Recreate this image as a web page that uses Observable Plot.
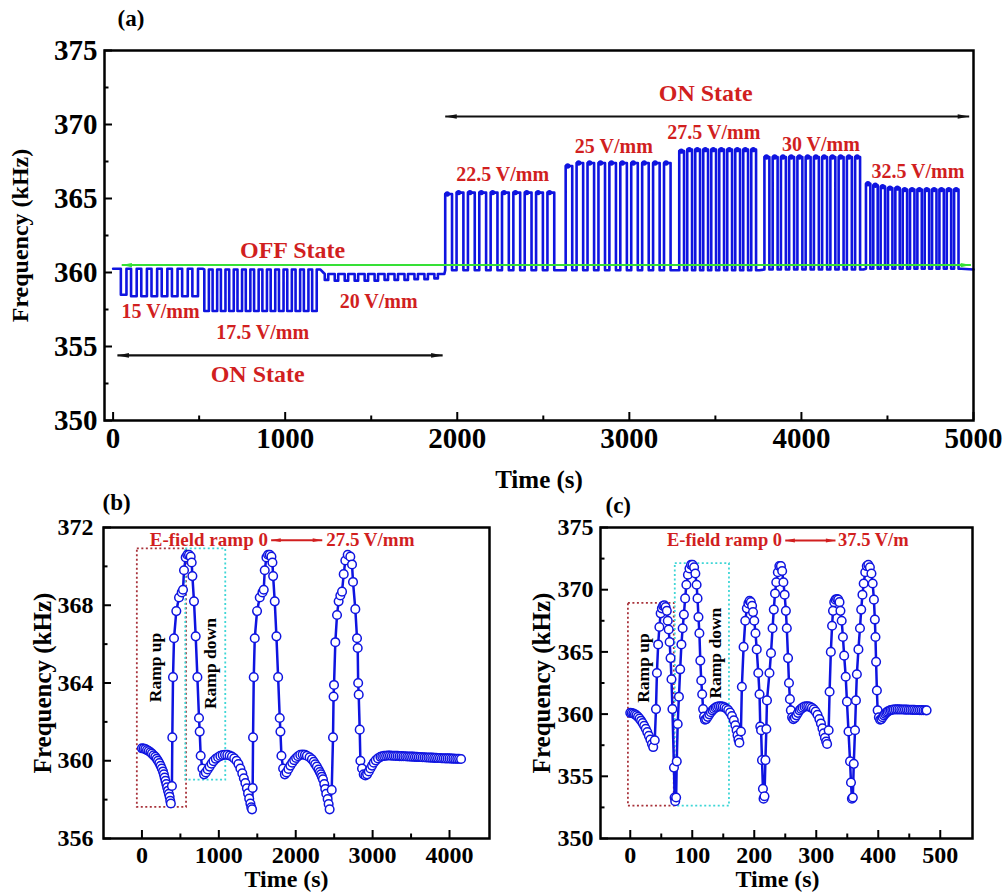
<!DOCTYPE html>
<html><head><meta charset="utf-8">
<script src="https://cdn.jsdelivr.net/npm/d3@7"></script>
<script src="https://cdn.jsdelivr.net/npm/@observablehq/plot@0.6"></script>
<style>
html,body{margin:0;padding:0;background:#fff;}
#wrap{position:relative;width:1003px;height:893px;overflow:hidden;background:#fff;}
#wrap svg{position:absolute;overflow:visible;}
</style></head><body><div id="wrap"></div>
<script>
// ---------------- Panel (a) data ----------------
const segLabels = ["15 V/mm","17.5 V/mm","20 V/mm","22.5 V/mm","25 V/mm","27.5 V/mm","30 V/mm","32.5 V/mm"];
const segStart = [45, 530, 1230, 1930, 2630, 3290, 3785, 4375];
const segEnd   = [520, 1205, 1925, 2590, 3265, 3755, 4360, 4930];
const segBase  = [360.25, 360.2, 359.9, 360.15, 360.15, 360.15, 360.2, 360.25];
const pulses15  = [358.5, 358.4, 358.4, 358.4, 358.4, 358.4, 358.4, 358.4];
const pulses175 = [357.4, 357.4, 357.4, 357.4, 357.4, 357.4, 357.4, 357.4, 357.4, 357.4, 357.4, 357.4, 357.4, 357.4];
const pulses20  = [359.5, 359.45, 359.45, 359.45, 359.45, 359.45, 359.5, 359.5, 359.5, 359.55, 359.55, 359.6];
const pulses225 = [365.3, 365.4, 365.4, 365.4, 365.4, 365.4, 365.4, 365.4, 365.4, 365.4];
const pulses25  = [367.2, 367.4, 367.4, 367.4, 367.4, 367.4, 367.4, 367.4, 367.4, 367.4];
const pulses275 = [368.2, 368.3, 368.3, 368.3, 368.3, 368.3, 368.3, 368.3, 368.3, 368.3];
const pulses30  = [367.8, 367.8, 367.8, 367.8, 367.8, 367.8, 367.8, 367.8, 367.8, 367.8, 367.8, 367.8];
const pulses325 = [366.0, 365.9, 365.8, 365.7, 365.7, 365.6, 365.6, 365.6, 365.6, 365.6, 365.6, 365.6, 365.6];
const segPulses = [pulses15, pulses175, pulses20, pulses225, pulses25, pulses275, pulses30, pulses325];
const segDuty = [0.55, 0.55, 0.35, 0.6, 0.6, 0.6, 0.6, 0.6];
const leadFreqA = 360.25, tailFreqA = 360.2;
const xTicksA = [0, 1000, 2000, 3000, 4000, 5000];
const yTicksA = [350, 355, 360, 365, 370, 375];

// ---------------- Panel (b) data ----------------
const timeB = [0,22,44,66,88,110,130,152,174,192,209,226,243,258,274,285,295,306,317,328,339,350,360,368,376,
390,395,404,417,447,482,517,534,547,569,590,612,634,647,656,677,699,721,742,751,764,786,808,
830,855,880,905,930,960,990,1020,1050,1080,1110,1140,1170,1200,1230,1255,1280,1305,1325,1345,1365,1380,1395,1410,1422,1432,
1440,1445,1454,1467,1497,1532,1567,1584,1597,1619,1640,1662,1684,1697,1706,1727,1749,1771,1792,1801,1814,1836,1858,
1880,1905,1930,1955,1980,2005,2030,2059,2090,2120,2145,2180,2211,2235,2254,2275,2297,2313,2328,2341,2354,2371,2384,2397,2415,2428,2441,
2468,2485,2492,2498,2515,2537,2558,2580,2602,2624,2645,2676,2710,2732,2745,2775,2797,2806,2812,2819,2832,2841,2862,2884,
2906,2928,2950,2971,2993,3015,3040,3070,3102,3125,3150,3175,3200,3225,3250,3275,3300,3325,3350,3375,3400,3425,3450,3475,3500,
3525,3550,3575,3600,3625,3650,3675,3700,3725,3750,3775,3800,3825,3850,3875,3900,3925,3950,3975,4000,4025,4050,4075,4100,4125,4150];
const freqB = [360.64,360.63,360.6,360.55,360.5,360.44,360.37,360.28,360.2,360.1,360.0,359.88,359.74,359.6,359.45,359.3,359.14,358.97,358.8,358.63,358.46,358.3,358.15,357.94,357.8,
358.7,361.2,364.3,366.3,367.7,368.4,368.66,368.8,369.8,370.46,370.6,370.6,370.5,370.2,369.5,368.2,366.4,364.3,362.2,361.5,360.26,359.6,359.3,
359.4,359.55,359.7,359.85,359.98,360.1,360.18,360.25,360.29,360.31,360.3,360.27,360.22,360.12,360.0,359.83,359.6,359.35,359.1,358.85,358.58,358.32,358.05,357.8,357.6,357.5,
358.6,361.2,364.3,366.3,367.7,368.4,368.66,368.8,369.8,370.46,370.6,370.6,370.5,370.2,369.5,368.2,366.4,364.3,362.2,361.5,360.26,359.6,359.3,
359.4,359.58,359.75,359.9,360.03,360.14,360.23,360.3,360.32,360.3,360.26,360.18,360.07,359.95,359.82,359.7,359.55,359.42,359.3,359.18,359.05,358.8,358.55,358.3,358.03,357.77,357.5,
358.5,361.2,363.3,363.9,366.1,367.5,368.2,368.5,368.7,369.6,370.3,370.6,370.5,370.1,369.2,367.8,366.3,365.8,364.0,363.4,361.6,360.0,359.6,359.3,
359.25,359.3,359.45,359.6,359.75,359.9,360.02,360.12,360.2,360.23,360.25,360.26,360.27,360.27,360.26,360.26,360.25,360.25,360.24,360.24,360.23,360.23,360.22,360.22,360.21,
360.21,360.2,360.2,360.19,360.19,360.18,360.18,360.17,360.17,360.16,360.16,360.15,360.15,360.14,360.14,360.13,360.13,360.12,360.12,360.12,360.11,360.11,360.1,360.1,360.1,360.09];
const xTicksB = [0, 1000, 2000, 3000, 4000];
const yTicksB = [356, 360, 364, 368, 372];

// ---------------- Panel (c) data ----------------
const timeC = [0,2.5,5,7.5,10,12.5,15,17.5,20,22.5,25,27.5,30,32.5,35,37,
39.5,41.5,43,45,47,49,51,53,55,57,59,60.5,62,63.5,65,66.5,68,70.5,71.5,72.5,
74,75,76.5,78.5,80.5,82.5,84.5,86.5,88.5,90.5,93,95.5,98,100.5,103,105,107,108.5,110,111.5,113,114.5,116,117.5,119,120.5,
122.5,125,127.5,130,132.5,135,137.5,140,143,146,149,152,155,158,161,164,167,169.5,171.5,173,174.5,176,
178.5,180,182.8,185.5,188,190.5,192.5,194.5,196.5,198,200,202,204,206.5,208.5,209.7,211,212.5,214,215,
216.5,218,219.5,220.5,224.5,227,229.5,231.5,233.5,235.5,238,240.5,243,245,247,249,251,252.5,254.5,256,257.5,259,261,263,
265.5,268,270.5,273,275.5,278,281,284,287,290,293,296,299,302,305,307.5,310,312,314,316,317.5,
320,321.5,323.5,325.5,327,329,331,333.5,335.5,337.5,339,341,343,345,347.5,349.5,352,354.5,356,357.5,
359,360.5,362.5,364,365.5,368,370.5,372.5,374.5,376.5,379,381.5,384,386.5,389,391,393,394.5,395.5,396.5,397.8,399,401,403,
405,407,409,411,413,415,417.5,420,422.5,425,428,431,434,437,440,443,446,449,452,455,458,461,464,467,470,473,476,478];
const freqC = [360.1,360.09,360.05,359.98,359.9,359.78,359.64,359.47,359.28,359.06,358.82,358.55,358.25,357.95,357.6,357.35,
357.9,360.4,363.3,365.6,367.0,368.1,368.5,368.7,368.75,368.6,368.3,367.5,366.8,365.8,364.5,362.8,360.4,355.7,353.3,353.0,
353.3,356.2,359.2,361.4,363.6,365.6,366.9,368.0,369.3,370.4,371.2,371.7,372.0,372.0,371.8,371.3,370.4,369.3,367.8,366.5,364.3,362.7,361.6,360.4,359.8,359.55,
359.6,359.78,359.98,360.15,360.3,360.42,360.52,360.58,360.62,360.62,360.6,360.55,360.45,360.32,360.12,359.85,359.5,359.1,358.7,358.3,357.95,357.7,
358.6,362.2,365.4,367.5,368.5,368.9,369.1,369.0,368.7,368.2,367.5,366.5,365.2,363.3,361.6,359.0,358.7,356.3,354.0,353.2,
353.4,356.3,358.8,361.1,363.3,364.9,366.9,368.4,369.7,370.6,371.4,371.9,371.9,371.5,370.6,369.6,368.3,366.9,364.5,362.5,361.2,360.3,359.75,359.6,
359.7,359.9,360.1,360.3,360.42,360.52,360.6,360.63,360.62,360.58,360.5,360.38,360.2,359.95,359.6,359.25,358.85,358.45,358.1,357.8,357.6,
358.7,361.8,365.0,367.1,368.3,369.0,369.2,369.25,369.2,369.0,368.3,367.5,366.2,364.7,363.0,361.0,358.6,356.2,354.5,353.2,
353.3,356.0,358.7,361.1,363.2,365.2,366.9,368.4,369.6,370.5,371.4,371.9,372.0,371.8,371.3,370.5,369.2,367.6,366.2,364.2,361.9,360.3,359.75,359.55,
359.6,359.75,359.9,360.02,360.12,360.2,360.27,360.32,360.35,360.37,360.38,360.38,360.38,360.37,360.37,360.36,360.36,360.35,360.35,360.34,360.34,360.33,360.33,360.32,360.32,360.31,360.31,360.3];
const xTicksC = [0, 100, 200, 300, 400, 500];
const yTicksC = [350, 355, 360, 365, 370, 375];

// ---------------- helpers ----------------
const FONT = "'Liberation Serif', 'Times New Roman', Times, serif";
const BLUE = "#0f14e0";
const RED = "#d11f1f";
const wrap = document.getElementById("wrap");

const headSymbol = {
  draw(ctx, size) {
    const r = Math.sqrt(size / Math.PI);
    ctx.moveTo(0, 0);
    ctx.lineTo(-3.2 * r, -0.65 * r);
    ctx.lineTo(-3.2 * r, 0.65 * r);
    ctx.closePath();
  }
};
function hArrow(x1, x2, y, color, sw, r) {
  const d = [{x1, x2, y}];
  return [
    Plot.link(d, {x1: "x1", x2: "x2", y1: "y", y2: "y", stroke: color, strokeWidth: sw}),
    Plot.dot(d, {x: "x2", y: "y", symbol: headSymbol, r, fill: color, stroke: "none", rotate: 0}),
    Plot.dot(d, {x: "x1", y: "y", symbol: headSymbol, r, fill: color, stroke: "none", rotate: 180})
  ];
}
function axes(o) {
  const common = {fontFamily: FONT, fontWeight: "bold", strokeWidth: 2, label: null, fill: "black"};
  return [
    Plot.axisX({...common, ticks: o.xt, tickSize: -8, tickPadding: o.xpad, tickFormat: d => String(d), fontSize: o.fs}),
    Plot.axisX({...common, ticks: o.xm, tickSize: -4.5, tickFormat: () => ""}),
    Plot.axisY({...common, ticks: o.yt, tickSize: -8, tickPadding: o.ypad, tickFormat: d => String(d), fontSize: o.fs}),
    Plot.axisY({...common, ticks: o.ym, tickSize: -4.5, tickFormat: () => ""})
  ];
}
function place(svg, left, top) {
  svg.style.left = left + "px";
  svg.style.top = top + "px";
  wrap.appendChild(svg);
}
const txt = (extra) => ({fontFamily: FONT, fontWeight: "bold", ...extra});
const yTitle = (dx, fs) => Plot.text(["Frequency (kHz)"], {text: d => d, frameAnchor: "left", rotate: -90, dx, textAnchor: "middle", lineAnchor: "middle", ...txt({fontSize: fs, fill: "black"})});
const xTitle = (dx, dy, fs) => Plot.text(["Time (s)"], {text: d => d, frameAnchor: "bottom", dx, dy, textAnchor: "middle", lineAnchor: "middle", ...txt({fontSize: fs, fill: "black"})});
const panelTag = (s, dx, dy) => Plot.text([s], {text: d => d, frameAnchor: "top-left", dx, dy, textAnchor: "start", lineAnchor: "middle", ...txt({fontSize: 23, fill: "black"})});

// ---------------- Panel (a) ----------------
const rowsA = [{t: 0, f: leadFreqA}];
const topsA = [];
segStart.forEach((s, i) => {
  const ps = segPulses[i], w = (segEnd[i] - s) / ps.length, b = segBase[i];
  rowsA.push({t: s, f: b});
  ps.forEach((p, k) => {
    const t0 = s + k * w, t1 = t0 + segDuty[i] * w;
    rowsA.push({t: t0, f: b}, {t: t0, f: p}, {t: t1, f: p}, {t: t1, f: b});
    if (p > b) topsA.push({t: t0, f: p});
  });
  rowsA.push({t: segEnd[i], f: b});
});
rowsA.push({t: 5000, f: tailFreqA});

const segLabelT = [276, 869, 1543, 2264, 2910, 3491, 4113, 4677];
const segLabelF = [356.9, 355.5, 357.6, 366.15, 368.1, 369.05, 368.2, 366.4];
const labelsA = segLabels.map((l, i) => ({l, t: segLabelT[i], f: segLabelF[i]}));

const plotA = Plot.plot({
  width: 1003, height: 495,
  marginLeft: 104, marginRight: 30, marginTop: 50, marginBottom: 75,
  x: {domain: [-50, 5000]},
  y: {domain: [350, 375]},
  style: {fontFamily: FONT, background: "transparent", overflow: "visible"},
  marks: [
    ...axes({xt: xTicksA, xm: [500, 1500, 2500, 3500, 4500], yt: yTicksA, ym: [352.5, 357.5, 362.5, 367.5, 372.5], fs: 29, xpad: 15, ypad: 15}),
    Plot.line(rowsA, {x: "t", y: "f", stroke: BLUE, strokeWidth: 2.6}),
    Plot.dot(topsA, {x: "t", y: "f", r: 2.7, fill: BLUE, dx: 2}),
    ...hArrow(50, 4985, 360.5, "#36e036", 2, 3.2),
    ...hArrow(25, 1915, 354.4, "#111", 2.2, 3.6),
    ...hArrow(1930, 4975, 370.54, "#111", 2.2, 3.6),
    Plot.text(labelsA, {x: "t", y: "f", text: "l", ...txt({fontSize: 20, fill: RED, lineAnchor: "bottom"})}),
    Plot.text([{t: 1043, f: 361.0, l: "OFF State"}, {t: 840, f: 352.57, l: "ON State"}, {t: 3444, f: 371.6, l: "ON State"}],
      {x: "t", y: "f", text: "l", ...txt({fontSize: 24, fill: RED, lineAnchor: "bottom"})}),
    yTitle(-84, 24),
    xTitle(0, 59, 25),
    panelTag("(a)", 13, -32),
    Plot.frame({stroke: "black", strokeWidth: 2.5})
  ]
});
place(plotA, 0, 0);

// ---------------- Panel (b) ----------------
const rowsB = timeB.map((t, i) => ({t, f: freqB[i]}));
const plotB = Plot.plot({
  width: 500, height: 413,
  marginLeft: 103, marginRight: 11, marginTop: 47, marginBottom: 55,
  x: {domain: [-500, 4520]},
  y: {domain: [356, 372]},
  style: {fontFamily: FONT, background: "transparent", overflow: "visible"},
  marks: [
    ...axes({xt: xTicksB, xm: [500, 1500, 2500, 3500], yt: yTicksB, ym: [358, 362, 366, 370], fs: 24, xpad: 15, ypad: 18}),
    Plot.rect([{x1: -60, x2: 580, y1: 357.6, y2: 370.9}], {x1: "x1", x2: "x2", y1: "y1", y2: "y2", fill: "none", stroke: "#a8323a", strokeWidth: 1.8, strokeDasharray: "2,2.5"}),
    Plot.rect([{x1: 570, x2: 1090, y1: 359.0, y2: 370.9}], {x1: "x1", x2: "x2", y1: "y1", y2: "y2", fill: "none", stroke: "#3fd6d6", strokeWidth: 1.8, strokeDasharray: "2,2.5"}),
    Plot.line(rowsB, {x: "t", y: "f", stroke: BLUE, strokeWidth: 2.5}),
    Plot.dot(rowsB, {x: "t", y: "f", r: 4.3, fill: "white", stroke: BLUE, strokeWidth: 1.5}),
    Plot.text([{t: 169, f: 364.8, l: "Ramp up"}, {t: 886, f: 365.0, l: "Ramp down"}], {x: "t", y: "f", text: "l", rotate: -90, ...txt({fontSize: 17.5, fill: "black"})}),
    Plot.text([{t: 870, f: 371.35, l: "E-field ramp 0"}, {t: 2970, f: 371.35, l: "27.5 V/mm"}], {x: "t", y: "f", text: "l", ...txt({fontSize: 19, fill: RED})}),
    ...hArrow(1680, 2345, 371.35, RED, 2, 3),
    yTitle(-61, 25),
    xTitle(-10, 41, 24),
    panelTag("(b)", -1, -25),
    Plot.frame({stroke: "black", strokeWidth: 2.5})
  ]
});
place(plotB, 0, 480);

// ---------------- Panel (c) ----------------
const rowsC = timeC.map((t, i) => ({t, f: freqC[i]}));
const plotC = Plot.plot({
  width: 503, height: 413,
  marginLeft: 100, marginRight: 31, marginTop: 47, marginBottom: 55,
  x: {domain: [-48, 552]},
  y: {domain: [350, 375]},
  style: {fontFamily: FONT, background: "transparent", overflow: "visible"},
  marks: [
    ...axes({xt: xTicksC, xm: [50, 150, 250, 350, 450], yt: yTicksC, ym: [352.5, 357.5, 362.5, 367.5, 372.5], fs: 24, xpad: 15, ypad: 15}),
    Plot.rect([{x1: -3, x2: 71, y1: 352.6, y2: 368.9}], {x1: "x1", x2: "x2", y1: "y1", y2: "y2", fill: "none", stroke: "#a8323a", strokeWidth: 1.8, strokeDasharray: "2,2.5"}),
    Plot.rect([{x1: 72.6, x2: 160, y1: 352.6, y2: 372.1}], {x1: "x1", x2: "x2", y1: "y1", y2: "y2", fill: "none", stroke: "#3fd6d6", strokeWidth: 1.8, strokeDasharray: "2,2.5"}),
    Plot.line(rowsC, {x: "t", y: "f", stroke: BLUE, strokeWidth: 2.5}),
    Plot.dot(rowsC, {x: "t", y: "f", r: 4.3, fill: "white", stroke: BLUE, strokeWidth: 1.5}),
    Plot.text([{t: 21, f: 363.7, l: "Ramp up"}, {t: 137, f: 364.9, l: "Ramp down"}], {x: "t", y: "f", text: "l", rotate: -90, ...txt({fontSize: 17.5, fill: "black"})}),
    Plot.text([{t: 152, f: 373.95, l: "E-field ramp 0"}, {t: 392, f: 373.95, l: "37.5 V/m"}], {x: "t", y: "f", text: "l", ...txt({fontSize: 18.5, fill: RED})}),
    ...hArrow(250, 331, 373.95, RED, 2, 3),
    yTitle(-59, 25),
    xTitle(-9, 41, 24),
    panelTag("(c)", 5, -22),
    Plot.frame({stroke: "black", strokeWidth: 2.5})
  ]
});
place(plotC, 500, 480);
</script></body></html>
